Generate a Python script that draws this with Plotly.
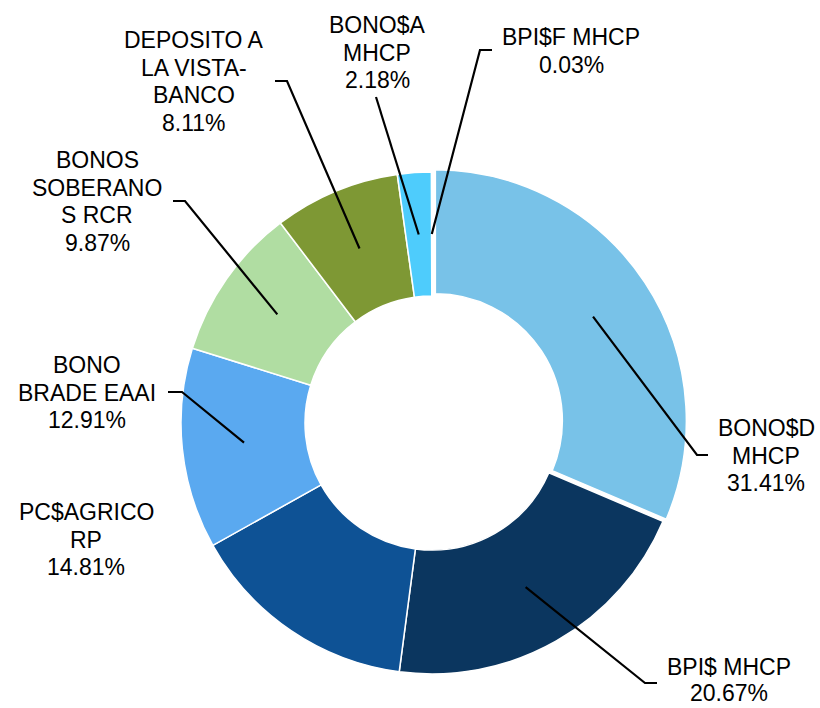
import math
import plotly.graph_objects as go

# ---------------- data ----------------
labels = ["BONO$D MHCP", "BPI$ MHCP", "PC$AGRICO RP", "BONO BRADE EAAI",
          "BONOS SOBERANOS RCR", "DEPOSITO A LA VISTA-BANCO", "BONO$A MHCP", "BPI$F MHCP"]
values = [31.41, 20.67, 14.81, 12.91, 9.87, 8.11, 2.18, 0.03]
label_lines = [["BONO$D", "MHCP"], ["BPI$ MHCP"], ["PC$AGRICO", "RP"], ["BONO", "BRADE EAAI"],
               ["BONOS", "SOBERANO", "S RCR"], ["DEPOSITO A", "LA VISTA-", "BANCO"],
               ["BONO$A", "MHCP"], ["BPI$F MHCP"]]

# ---------------- style / layout ----------------
colors = ["#78C2E8", "#0B365F", "#0E5295", "#5AA9F0", "#B0DDA2", "#7E9834", "#4ECCFC", "#F2F2F2"]
pulls = [0.016, 0, 0, 0, 0, 0, 0, 0]
W, H = 820, 708
CX, CY, R = 432, 423, 251
HOLE = 0.506
FONT = dict(family="Arial, Liberation Sans, sans-serif", size=23, color="#000000")
LINE_H = 27.7
# label block (center x, first line center y) in pixels
label_pos = [(766, 428), (729, 667), (86, 512), (87, 365), (97, 160), (194, 40), (377, 25), (571, 37)]
line_h = [LINE_H, 25.5, LINE_H, LINE_H, LINE_H, LINE_H, LINE_H, LINE_H]
# leader line elbow and end points in pixels (None = no leader)
leaders = [((697, 455), (708, 455)), ((645, 683), (657, 683)), None, ((182, 392), (168, 392)),
           ((185, 201), (173, 201)), ((287, 81), (275, 81)), ((376, 97), (376, 97)), ((480, 50), (492, 50))]


def px(x):
    return x / W


def py(y):
    return 1 - y / H


maxpull = max(pulls)
half = R * (1 + maxpull)
fig = go.Figure(go.Pie(
    labels=labels, values=values, sort=False, direction="clockwise", rotation=0,
    hole=HOLE, pull=pulls, textinfo="none", hoverinfo="label+percent",
    marker=dict(colors=colors, line=dict(color="white", width=1.5)),
    domain=dict(x=[px(CX - half), px(CX + half)], y=[py(CY + half), py(CY - half)]),
    showlegend=False,
))

total = sum(values)
annotations = []
shapes = []
cum = 0.0
rm = R * (1 + HOLE) / 2
for i, v in enumerate(values):
    mid = (cum + v / 2) / total * 2 * math.pi
    cum += v
    s, c = math.sin(mid), math.cos(mid)
    off = pulls[i] * R
    sx = CX + (rm + off) * s
    sy = CY - (rm + off) * c
    # text
    lines = label_lines[i] + [f"{v:.2f}%"]
    lx, ly = label_pos[i]
    for k, t in enumerate(lines):
        annotations.append(dict(text=t, x=px(lx), y=py(ly + k * line_h[i]), xref="paper", yref="paper",
                                xanchor="center", yanchor="middle", showarrow=False, font=FONT))
    if leaders[i] is not None:
        (ex, ey), (tx, ty) = leaders[i]
        path = f"M {px(sx)} {py(sy)} L {px(ex)} {py(ey)} L {px(tx)} {py(ty)}"
        shapes.append(dict(type="path", path=path, xref="paper", yref="paper",
                           line=dict(color="black", width=2.2)))

fig.update_layout(width=W, height=H, margin=dict(l=0, r=0, t=0, b=0),
                  paper_bgcolor="white", plot_bgcolor="white",
                  annotations=annotations, shapes=shapes)
fig.write_html("out.html")
